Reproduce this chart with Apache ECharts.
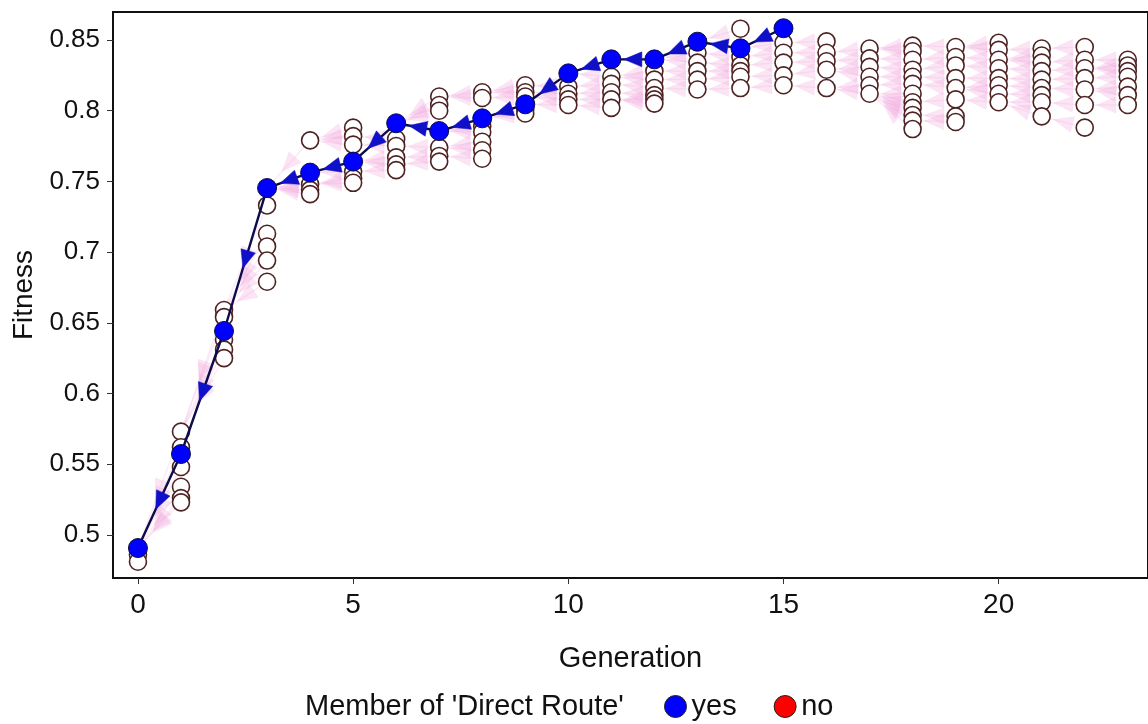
<!DOCTYPE html>
<html>
<head>
<meta charset="utf-8">
<script src="https://cdn.jsdelivr.net/npm/echarts@6/dist/echarts.min.js"></script>
<style>
html,body{margin:0;padding:0;background:#fff;}
#chart{width:1148px;height:724px;}
</style>
</head>
<body>
<div id="chart"></div>
<script>
// ---- data ----
const xTicks = [0, 5, 10, 15, 20];
const yTicks = [0.5, 0.55, 0.6, 0.65, 0.7, 0.75, 0.8, 0.85];
// fitness of the 'Direct Route' member in generations 0..15
const routeGenerations = [0,1,2,3,4,5,6,7,8,9,10,11,12,13,14,15];
const routeFitness = [0.4907, 0.5572, 0.6442, 0.7453, 0.7562, 0.7640, 0.7911, 0.7856, 0.7946, 0.8045, 0.8264, 0.8363, 0.8363, 0.8488, 0.8441, 0.8583];
// fitness of the other individuals, one list per generation 0..23
const gen0 = [0.486, 0.481];
const gen1 = [0.573, 0.562, 0.548, 0.534, 0.526, 0.523];
const gen2 = [0.659, 0.654, 0.638, 0.631, 0.625];
const gen3 = [0.733, 0.713, 0.704, 0.694, 0.679];
const gen4 = [0.779, 0.748, 0.744, 0.741];
const gen5 = [0.788, 0.782, 0.776, 0.757, 0.752, 0.749];
const gen6 = [0.780, 0.775, 0.767, 0.762, 0.758];
const gen7 = [0.810, 0.804, 0.800, 0.774, 0.768, 0.764];
const gen8 = [0.813, 0.809, 0.789, 0.785, 0.778, 0.772, 0.766];
const gen9 = [0.818, 0.813, 0.810, 0.801, 0.798];
const gen10 = [0.817, 0.812, 0.808, 0.804];
const gen11 = [0.824, 0.819, 0.813, 0.808, 0.802];
const gen12 = [0.828, 0.822, 0.816, 0.811, 0.808, 0.805];
const gen13 = [0.841, 0.834, 0.828, 0.822, 0.815];
const gen14 = [0.858, 0.838, 0.832, 0.828, 0.824, 0.816];
const gen15 = [0.848, 0.841, 0.834, 0.825, 0.818];
const gen16 = [0.849, 0.841, 0.835, 0.829, 0.816];
const gen17 = [0.844, 0.837, 0.831, 0.824, 0.818, 0.812];
const gen18 = [0.846, 0.842, 0.836, 0.829, 0.824, 0.819, 0.812, 0.806, 0.802, 0.797, 0.793, 0.787];
const gen19 = [0.845, 0.838, 0.832, 0.823, 0.816, 0.808, 0.796, 0.792];
const gen20 = [0.848, 0.843, 0.836, 0.830, 0.823, 0.818, 0.812, 0.806];
const gen21 = [0.844, 0.839, 0.834, 0.828, 0.822, 0.816, 0.811, 0.806, 0.796];
const gen22 = [0.845, 0.836, 0.830, 0.823, 0.815, 0.804, 0.788];
const gen23 = [0.836, 0.832, 0.828, 0.824, 0.817, 0.811, 0.804];
const population = [gen0,gen1,gen2,gen3,gen4,gen5,gen6,gen7,gen8,gen9,gen10,gen11,gen12,gen13,gen14,gen15,gen16,gen17,gen18,gen19,gen20,gen21,gen22,gen23];

// ---- build series data ----
const otherPts = [];
population.forEach((list, g) => list.forEach(v => otherPts.push([g, v])));
const routePts = routeGenerations.map((g, i) => [g, routeFitness[i]]);

function allOf(g) {
  const arr = population[g].slice();
  const ri = routeGenerations.indexOf(g);
  if (ri >= 0) arr.push(routeFitness[ri]);
  return arr;
}
// lineage links (child -> parent), parent = closest fitness in previous generation
const pinkLinks = [];
for (let g = 1; g < population.length; g++) {
  const prev = allOf(g - 1);
  population[g].forEach(v => {
    let best = prev[0];
    prev.forEach(p => { if (Math.abs(p - v) < Math.abs(best - v)) best = p; });
    pinkLinks.push([g, v, g - 1, best]);
  });
}
const routeLinks = [];
for (let i = 1; i < routePts.length; i++) {
  routeLinks.push([routePts[i][0], routePts[i][1], routePts[i-1][0], routePts[i-1][1]]);
}

function makeArrowRenderer(stroke, fill, lw, size, drawLine) {
  return function (params, api) {
    const c = api.coord([api.value(0), api.value(1)]);
    const p = api.coord([api.value(2), api.value(3)]);
    const mx = (c[0] + p[0]) / 2, my = (c[1] + p[1]) / 2;
    const dx = p[0] - c[0], dy = p[1] - c[1];
    const len = Math.sqrt(dx*dx + dy*dy) || 1;
    const ux = dx / len, uy = dy / len;
    const nx = -uy, ny = ux;
    const tip = [mx + ux*size*0.6, my + uy*size*0.6];
    const b1 = [mx - ux*size*0.6 + nx*size*0.5, my - uy*size*0.6 + ny*size*0.5];
    const b2 = [mx - ux*size*0.6 - nx*size*0.5, my - uy*size*0.6 - ny*size*0.5];
    const children = [];
    if (drawLine) {
      children.push({type:'line', shape:{x1:c[0], y1:c[1], x2:p[0], y2:p[1]}, style:{stroke: stroke, lineWidth: lw}});
    }
    children.push({type:'polygon', shape:{points:[tip, b1, b2]}, style:{fill: fill, stroke: fill, lineWidth: 0.5}});
    return {type:'group', children: children};
  };
}

const FONT = 'Liberation Sans, Arial, sans-serif';
const chart = echarts.init(document.getElementById('chart'), null, {renderer:'canvas'});
const option = {
  animation: false,
  backgroundColor: '#fff',
  grid: {left: 113, top: 12, right: -4, bottom: 146, show: true, borderColor: '#111', borderWidth: 2, backgroundColor: '#fff'},
  xAxis: {
    type: 'value', min: -0.58, max: 23.47,
    name: 'Generation', nameLocation: 'middle', nameGap: 66,
    nameTextStyle: {fontFamily: FONT, fontSize: 29, color: '#111'},
    axisLine: {show: true, onZero: false, lineStyle: {color: '#111', width: 2}},
    axisTick: {show: true, length: 6, customValues: xTicks, lineStyle: {color: '#333'}},
    axisLabel: {customValues: xTicks, fontFamily: FONT, fontSize: 28, color: '#111', margin: 13},
    splitLine: {show: false}
  },
  yAxis: {
    type: 'value', min: 0.4695, max: 0.8698,
    name: 'Fitness', nameLocation: 'middle', nameGap: 72, nameRotate: 90,
    nameTextStyle: {fontFamily: FONT, fontSize: 28, color: '#111'},
    axisLine: {show: true, onZero: false, lineStyle: {color: '#111', width: 2}},
    axisTick: {show: true, length: 6, customValues: yTicks, lineStyle: {color: '#333'}},
    axisLabel: {customValues: yTicks, fontFamily: FONT, fontSize: 26, color: '#111', margin: 13},
    splitLine: {show: false}
  },
  legend: {
    left: 659, top: 687, itemWidth: 22, itemHeight: 22, itemGap: 37,
    icon: 'circle',
    textStyle: {fontFamily: FONT, fontSize: 29, color: '#111'},
    data: [
      {name: 'yes', itemStyle: {color: '#0000ff', borderColor: '#222', borderWidth: 1, opacity: 1}},
      {name: 'no', itemStyle: {color: '#ff0000', borderColor: '#222', borderWidth: 1, opacity: 1}}
    ],
    selectedMode: false
  },
  graphic: [{
    type: 'text', left: 305, top: 692,
    style: {text: "Member of 'Direct Route'", font: '29px ' + FONT, fill: '#111'}
  }],
  series: [
    {
      name: 'links', type: 'custom', renderItem: makeArrowRenderer('rgba(245,175,225,0.25)', 'rgba(242,170,222,0.3)', 1.5, 16, true),
      data: pinkLinks, encode: {x: [0, 2], y: [1, 3]}, silent: true, z: 1
    },
    {
      name: 'no', type: 'scatter', data: otherPts, symbol: 'circle', symbolSize: 17,
      itemStyle: {color: '#ffffff', borderColor: '#4e2222', borderWidth: 1.6, opacity: 1}, z: 2
    },
    {
      name: 'route', type: 'line', data: routePts, showSymbol: false, symbol: 'none',
      lineStyle: {color: '#0c0c4a', width: 2.4}, z: 3
    },
    {
      name: 'routeArrows', type: 'custom', renderItem: makeArrowRenderer('#0c0c4a', '#1010c8', 2, 15, false),
      data: routeLinks, encode: {x: [0, 2], y: [1, 3]}, silent: true, z: 4
    },
    {
      name: 'yes', type: 'scatter', data: routePts, symbol: 'circle', symbolSize: 19,
      itemStyle: {color: '#0000ff', borderColor: '#0c0c4a', borderWidth: 1, opacity: 1}, z: 5
    }
  ]
};
chart.setOption(option);
</script>
</body>
</html>
